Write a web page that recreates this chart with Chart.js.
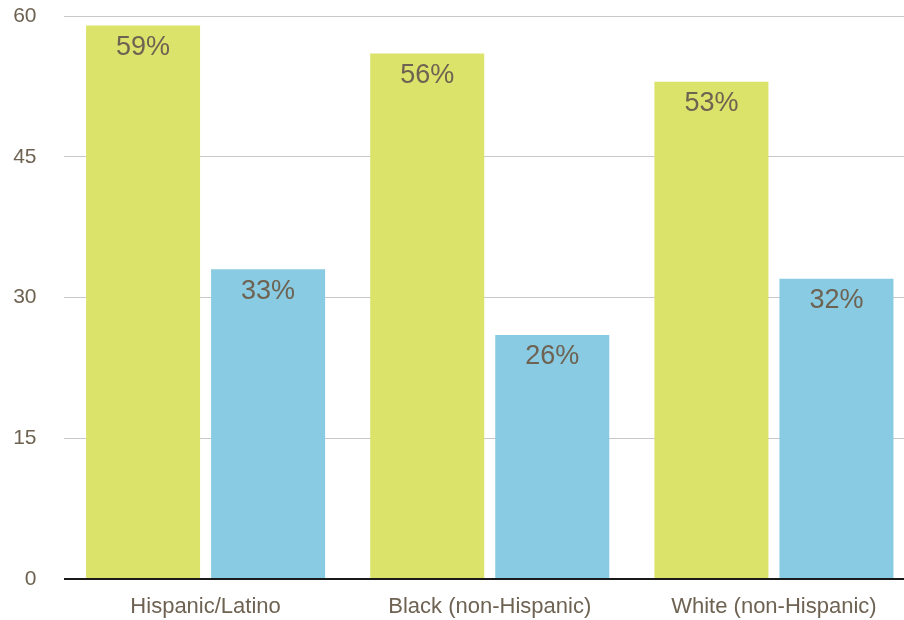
<!DOCTYPE html>
<html>
<head>
<meta charset="UTF-8">
<title>Chart</title>
<script src="https://cdn.jsdelivr.net/npm/chart.js"></script>
<style>
  html, body { margin: 0; padding: 0; background: #fff; overflow: hidden; }
  #wrap { width: 916px; height: 620px; }
</style>
</head>
<body>
<div id="wrap"><canvas id="grafico" width="916" height="620"></canvas></div>
<script>
// datos
const categorias = ['Hispanic/Latino', 'Black (non-Hispanic)', 'White (non-Hispanic)'];
const serieVerde = [59, 56, 53];
const serieAzul = [33, 26, 32];
const ticksY = [0, 15, 30, 45, 60];

const colorTexto = '#6e6352';

// etiquetas dentro de las barras
const etiquetas = {
  id: 'etiquetas',
  afterDatasetsDraw(chart) {
    const ctx = chart.ctx;
    ctx.save();
    ctx.font = '27px "Liberation Sans", Arial, sans-serif';
    ctx.fillStyle = colorTexto;
    ctx.textAlign = 'center';
    ctx.textBaseline = 'middle';
    chart.data.datasets.forEach((ds, i) => {
      chart.getDatasetMeta(i).data.forEach((bar, j) => {
        ctx.fillText(ds.data[j] + '%', bar.x, bar.y + 22);
      });
    });
    ctx.restore();
  }
};

new Chart(document.getElementById('grafico'), {
  type: 'bar',
  data: {
    labels: categorias,
    datasets: [
      { data: serieVerde, backgroundColor: '#dce36a', categoryPercentage: 0.88, barPercentage: 0.912 },
      { data: serieAzul, backgroundColor: '#89cbe2', categoryPercentage: 0.88, barPercentage: 0.912 }
    ]
  },
  options: {
    responsive: false,
    animation: false,
    layout: { padding: 0 },
    plugins: { legend: { display: false }, tooltip: { enabled: false } },
    scales: {
      x: {
        afterFit: s => { s.height = 41; },
        grid: { display: false },
        border: { display: false },
        ticks: {
          color: colorTexto,
          font: { size: 22, family: '"Liberation Sans", Arial, sans-serif' },
          padding: 7
        }
      },
      y: {
        min: 0,
        max: 60,
        afterFit: s => { s.width = 63.5; s.paddingTop = 16; s.paddingBottom = 0; },
        afterBuildTicks: s => { s.ticks = ticksY.map(v => ({ value: v })); },
        border: { display: false },
        grid: {
          drawTicks: false,
          color: c => c.tick.value === 0 ? '#1a1a1a' : '#c8c8c8',
          lineWidth: c => c.tick.value === 0 ? 2 : 1
        },
        ticks: {
          color: colorTexto,
          font: { size: 21, family: '"Liberation Sans", Arial, sans-serif' },
          padding: 27
        }
      }
    }
  },
  plugins: [etiquetas]
});
</script>
</body>
</html>
